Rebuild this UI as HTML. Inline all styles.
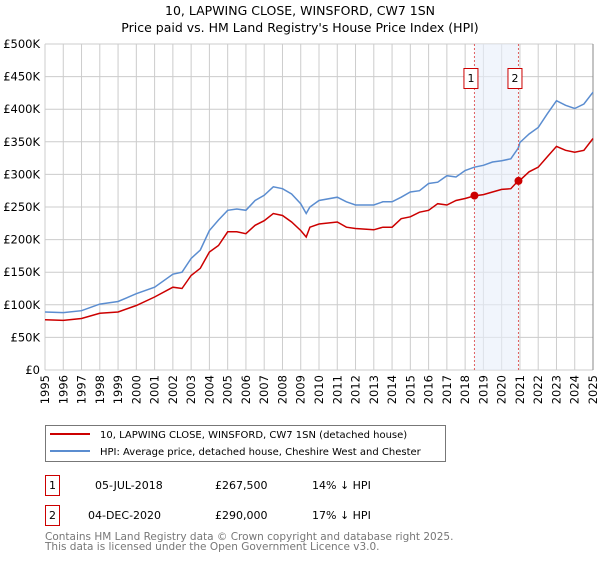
<!DOCTYPE html>
<html><head><meta charset="utf-8"><style>
body{margin:0;background:#fff;font-family:"DejaVu Sans","Liberation Sans",sans-serif;}
svg text{font-family:"DejaVu Sans","Liberation Sans",sans-serif;}
</style></head><body>
<svg id="chart" width="600" height="560" xmlns="http://www.w3.org/2000/svg">
<text x="300" y="15" font-size="12.5" text-anchor="middle">10, LAPWING CLOSE, WINSFORD, CW7 1SN</text>
<text x="300" y="32" font-size="12.5" text-anchor="middle">Price paid vs. HM Land Registry's House Price Index (HPI)</text>
<g id="grid"></g>
<g id="band"></g>
<g id="axes"></g>
<g id="series"></g>
<g id="markers"></g>
<g>
<rect x="45.5" y="425.5" width="400" height="36" fill="#fff" stroke="#777"/>
<line x1="50" y1="434" x2="90" y2="434" stroke="#cc0000" stroke-width="2"/>
<text x="100" y="438" font-size="10">10, LAPWING CLOSE, WINSFORD, CW7 1SN (detached house)</text>
<line x1="50" y1="451" x2="90" y2="451" stroke="#5b8dd0" stroke-width="2"/>
<text x="100" y="455" font-size="10">HPI: Average price, detached house, Cheshire West and Chester</text>
</g>
<g font-size="11">
<rect x="45.5" y="475.5" width="14" height="20" fill="#fff" stroke="#cc0000"/>
<text x="52.5" y="489" text-anchor="middle">1</text>
<text x="95" y="489">05-JUL-2018</text>
<text x="215" y="489">£267,500</text>
<text x="312" y="489">14% ↓ HPI</text>
<rect x="45.5" y="505.5" width="14" height="20" fill="#fff" stroke="#cc0000"/>
<text x="52.5" y="519" text-anchor="middle">2</text>
<text x="88" y="519">04-DEC-2020</text>
<text x="215" y="519">£290,000</text>
<text x="312" y="519">17% ↓ HPI</text>
</g>
<text x="45" y="540" font-size="10.5" fill="#777">Contains HM Land Registry data © Crown copyright and database right 2025.</text>
<text x="45" y="550" font-size="10.5" fill="#777">This data is licensed under the Open Government Licence v3.0.</text>
</svg>
<script>
const years=[1995,1996,1997,1998,1999,2000,2001,2002,2002.5,2003,2003.5,2004,2004.5,2005,2005.5,2006,2006.5,2007,2007.5,2008,2008.5,2009,2009.3,2009.5,2010,2011,2011.5,2012,2013,2013.5,2014,2014.5,2015,2015.5,2016,2016.5,2017,2017.5,2018,2018.5,2019,2019.5,2020,2020.5,2020.9,2021,2021.5,2022,2022.5,2023,2023.5,2024,2024.5,2025];
const hpi=[89,88,91,101,105,117,127,147,150,171,184,214,230,245,247,245,260,268,281,278,270,255,240,250,260,265,258,253,253,258,258,265,273,275,286,288,298,296,306,311,314,319,321,324,340,349,362,372,393,413,406,401,408,426];
const price=[77,76,79,87,89,99,112,127,125,145,156,181,191,212,212,209,222,229,240,237,227,214,204,219,224,227,219,217,215,219,219,232,235,242,245,255,253,260,263,267,269,273,277,278,290,291,304,311,327,343,337,334,337,355];
const saleYears=[2018.51,2020.92];
const salePrices=[267.5,290];
const saleLabels=["1","2"];
const yTicks=[0,50,100,150,200,250,300,350,400,450,500];
const yTickLabels=["£0","£50K","£100K","£150K","£200K","£250K","£300K","£350K","£400K","£450K","£500K"];
const NS="http://www.w3.org/2000/svg";
const X0=45,X1=593,Y0=370,Y1=44;
const x=v=>X0+(v-1995)/30*(X1-X0);
const y=v=>Y0-v/500*(Y0-Y1);
function mk(parent,tag,attrs){const e=document.createElementNS(NS,tag);for(const k in attrs)e.setAttribute(k,attrs[k]);document.getElementById(parent).appendChild(e);return e;}
for(let yr=1995;yr<=2025;yr++){
 const g=mk('grid','line',{x1:x(yr),x2:x(yr),y1:Y1,y2:Y0,stroke:'#cccccc'});
 
 
 const t=mk('axes','text',{x:0,y:0,'font-size':'11.5','text-anchor':'end',transform:`translate(${x(yr)+4},${Y0+5}) rotate(-90)`});
 t.textContent=yr;
 
 
}
yTicks.forEach((v,i)=>{
 const g=mk('grid','line',{x1:X0,x2:X1,y1:y(v),y2:y(v),stroke:'#cccccc'});
 
 
 const t=mk('axes','text',{x:40,y:y(v)+4,'font-size':'11.5','text-anchor':'end'});
 t.textContent=yTickLabels[i];
 
 
});
const b=mk('band','rect',{x:x(saleYears[0]),y:Y1,width:x(saleYears[1])-x(saleYears[0]),height:Y0-Y1,fill:'#e8effa',opacity:'0.6'});


const ax=mk('axes','line',{x1:X1,x2:X1,y1:Y1,y2:Y0,stroke:'#888'});


function pts(arr){return years.map((yr,i)=>x(yr).toFixed(1)+','+y(arr[i]).toFixed(1)).join(' ');}
const lh=mk('series','polyline',{points:pts(hpi),fill:'none',stroke:'#5b8dd0','stroke-width':'1.5'});


const lp=mk('series','polyline',{points:pts(price),fill:'none',stroke:'#cc0000','stroke-width':'1.5'});


saleYears.forEach((sy,i)=>{
 const l=mk('markers','line',{x1:x(sy),x2:x(sy),y1:Y1,y2:Y0,stroke:'#e06060','stroke-dasharray':'2,2'});
 
 
 const c=mk('markers','circle',{cx:x(sy),cy:y(salePrices[i]),r:4,fill:'#cc0000'});
 
 
 const r=mk('markers','rect',{x:x(sy)-10.5,y:68.5,width:14,height:20,fill:'#fff',stroke:'#cc0000'});
 
 
 const t=mk('markers','text',{x:x(sy)-3.5,y:82,'font-size':'11','text-anchor':'middle'});
 t.textContent=saleLabels[i];
 
 
});
</script>
</body></html>
